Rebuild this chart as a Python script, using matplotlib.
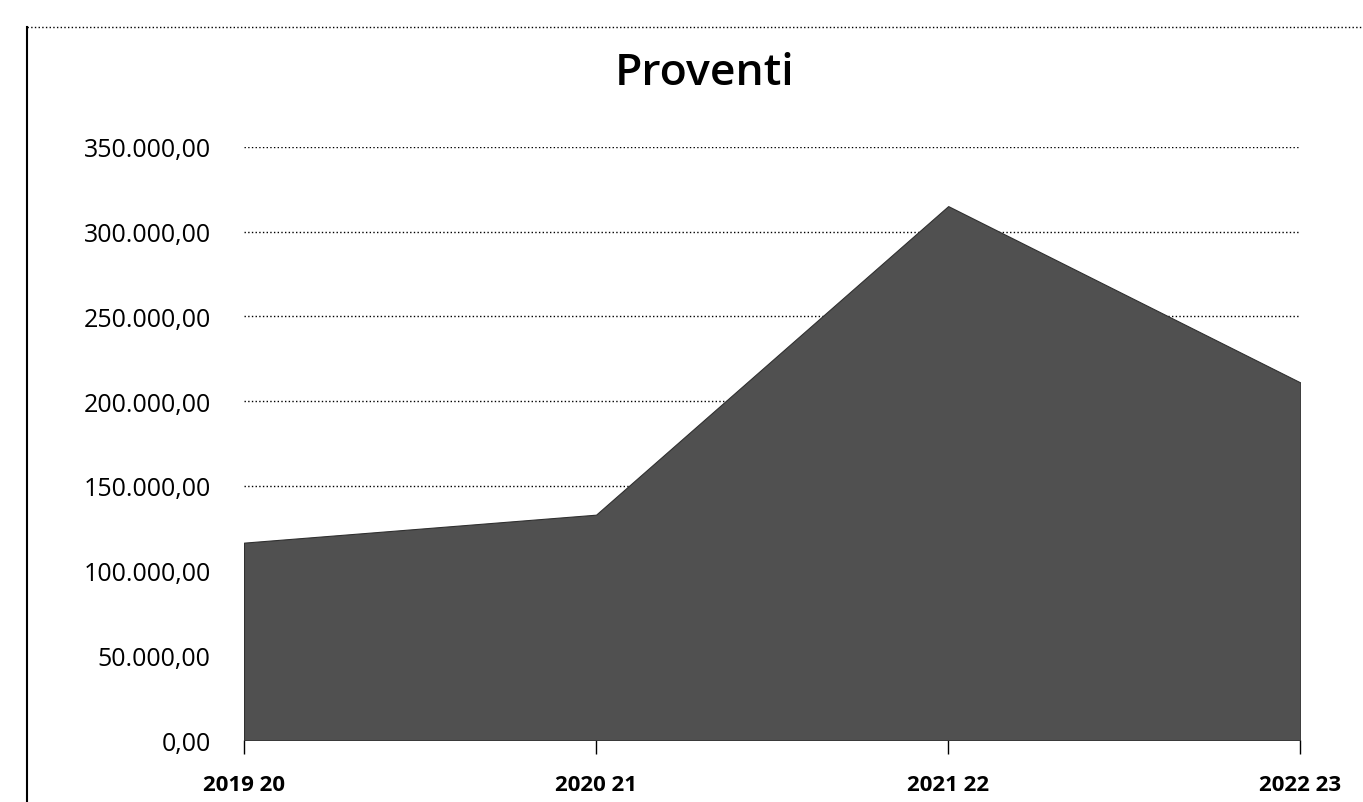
import numpy as np
import matplotlib.pyplot as plt
from matplotlib.lines import Line2D

anni = ["2019 20", "2020 21", "2021 22", "2022 23"]
proventi = [116500, 133000, 315000, 211000]
y_ticks = [0, 50000, 100000, 150000, 200000, 250000, 300000, 350000]


def fmt_it(v):
    # formato italiano: 350.000,00
    s = f"{v:,.2f}"
    return s.replace(",", "X").replace(".", ",").replace("X", ".")


plt.rcParams['font.family'] = ['Open Sans', 'DejaVu Sans']

fig = plt.figure(figsize=(13.63, 8.03), dpi=100)
ax = fig.add_axes([0.179, 0.077, 0.775, 0.739])

x = np.arange(len(anni))
ax.fill_between(x, proventi, 0, facecolor='#505050', edgecolor='#303030',
                linewidth=0.8, zorder=2)

ax.set_xlim(0, len(anni) - 1)
ax.set_ylim(0, 350000)
ax.set_yticks(y_ticks)
ax.set_yticklabels([fmt_it(v) for v in y_ticks], fontsize=18)
ax.yaxis.grid(True, linestyle=':', color='black', linewidth=1.0, zorder=1)
ax.set_axisbelow(True)
ax.tick_params(axis='y', length=0, pad=24)

ax.set_xticks(x)
ax.set_xticklabels(anni, fontsize=16, fontweight='bold')
ax.tick_params(axis='x', direction='out', length=10, width=1, pad=14)

for s in ['top', 'right', 'left', 'bottom']:
    ax.spines[s].set_visible(False)

fig.text(0.517, 0.908, "Proventi", ha='center', va='center', fontsize=32,
         fontweight='semibold')

# bordo del grafico (scansione)
fig.add_artist(Line2D([0.02, 0.02], [0.0, 0.965], color='black', linewidth=1.5))
fig.add_artist(Line2D([0.02, 1.0], [0.965, 0.965], color='black', linewidth=1.0,
                      linestyle=':'))

fig.savefig("out.png", dpi=100)
